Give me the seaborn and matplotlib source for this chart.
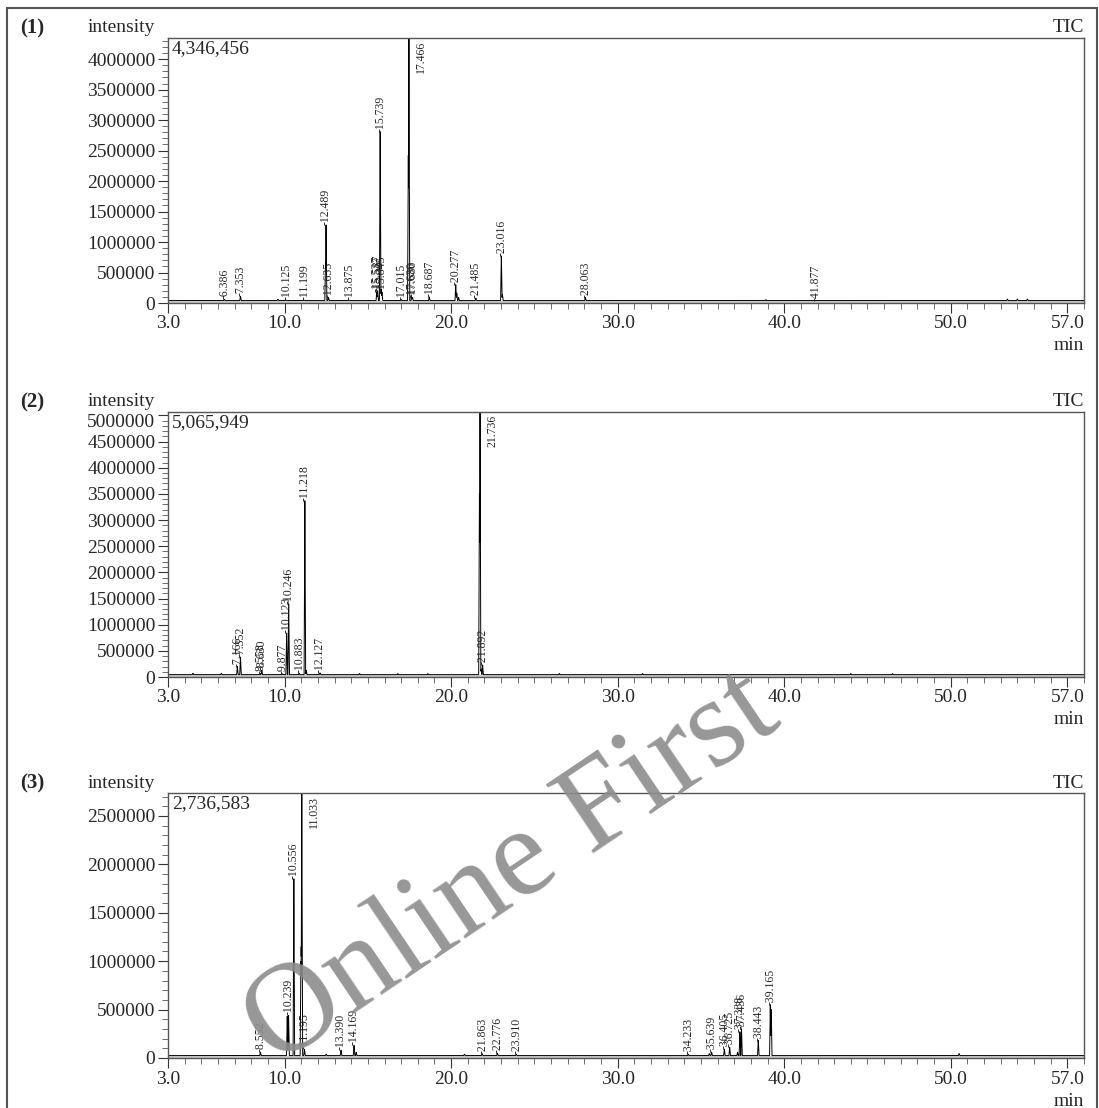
import numpy as np
import matplotlib
matplotlib.use("Agg")
import matplotlib.pyplot as plt
import matplotlib.transforms as mtransforms
import seaborn as sns
from matplotlib.ticker import FixedLocator, MultipleLocator, FuncFormatter

# ---- data (retention time in min, intensity) ----
# (1)
p1_rt = [6.386, 7.353, 10.125, 11.199, 12.489, 12.635, 13.875, 15.537, 15.587,
         15.739, 15.845, 17.015, 17.466, 17.630, 17.680, 18.687, 20.277, 21.485,
         23.016, 28.063, 41.877]
p1_h = [60e3, 110e3, 45e3, 45e3, 1.28e6, 90e3, 45e3, 180e3, 200e3,
        2.81e6, 180e3, 55e3, 4346456, 90e3, 95e3, 100e3, 300e3, 80e3,
        770e3, 90e3, 35e3]
p1_extra_rt = [9.60, 12.46, 15.80, 17.43, 20.34, 20.45, 23.08, 38.90, 53.4, 54.0, 54.6]
p1_extra_h = [60e3, 660e3, 220e3, 2.42e6, 160e3, 90e3, 140e3, 55e3, 65e3, 65e3, 65e3]
p1_max = 4346456
p1_base = 40e3

# (2)
p2_rt = [7.166, 7.352, 8.558, 8.630, 9.877, 10.123, 10.246, 10.883, 11.218,
         12.127, 21.736, 21.892]
p2_h = [200e3, 380e3, 60e3, 130e3, 60e3, 840e3, 1.39e6, 70e3, 3.37e6,
        80e3, 5065949, 230e3]
p2_extra_rt = [4.5, 6.2, 11.30, 14.5, 16.8, 18.6, 21.70, 21.80, 26.5, 31.5, 44.0, 46.5]
p2_extra_h = [70e3, 70e3, 130e3, 65e3, 65e3, 65e3, 3.5e6, 150e3, 65e3, 65e3, 65e3, 65e3]
p2_max = 5065949
p2_base = 45e3

# (3)
p3_rt = [8.552, 10.239, 10.556, 11.033, 11.195, 13.390, 14.169, 21.863, 22.776,
         23.910, 34.233, 35.639, 36.405, 36.725, 37.338, 37.436, 38.443, 39.165]
p3_h = [60e3, 440e3, 1.85e6, 2736583, 90e3, 80e3, 130e3, 45e3, 50e3,
        40e3, 40e3, 60e3, 90e3, 110e3, 270e3, 300e3, 180e3, 550e3]
p3_extra_rt = [10.16, 10.98, 11.00, 12.5, 14.3, 20.8, 35.5, 37.2, 39.22, 50.5]
p3_extra_h = [430e3, 1.0e6, 1.15e6, 40e3, 60e3, 40e3, 45e3, 60e3, 500e3, 45e3]
p3_max = 2736583
p3_base = 25e3

panels = [
    ("(1)", p1_rt, p1_h, p1_extra_rt, p1_extra_h, p1_max, p1_base, "4,346,456", 38),
    ("(2)", p2_rt, p2_h, p2_extra_rt, p2_extra_h, p2_max, p2_base, "5,065,949", 412),
    ("(3)", p3_rt, p3_h, p3_extra_rt, p3_extra_h, p3_max, p3_base, "2,736,583", 793),
]

sns.set_style("ticks")
plt.rcParams['font.family'] = ['Liberation Serif', 'DejaVu Serif']
plt.rcParams['axes.edgecolor'] = '#555555'

W, H = 1099, 1108
fig = plt.figure(figsize=(W / 100, H / 100), dpi=100)

hw = 0.045  # half width of a peak, min


def build_trace(rts, hs, base):
    # grid plus the apex times, so every apex is hit exactly
    t = np.union1d(np.arange(3.0, 58.0, 0.004), rts)
    y = np.full_like(t, base)
    for r, h in zip(rts, hs):
        d = np.abs(t - r)
        y = np.maximum(y, np.where(d < hw, base + (h - base) * (1 - d / hw), base))
    return t, y


ax_left, ax_right = 168, 1084
ax_h = 265
for name, rts, hs, ex_rt, ex_h, ymax, base, maxlab, top in panels:
    ax = fig.add_axes([ax_left / W, 1 - (top + ax_h) / H,
                       (ax_right - ax_left) / W, ax_h / H])
    t, y = build_trace(list(rts) + list(ex_rt), list(hs) + list(ex_h), base)
    ax.fill_between(t, 0, base, color='#c8c8c8', lw=0)
    sns.lineplot(x=t, y=y, ax=ax, color='black', lw=0.7, estimator=None, sort=False)
    ax.set_xlim(3.0, 58.0)
    ax.set_ylim(0, ymax)

    for r, h in zip(rts, hs):
        if h >= ymax * 0.99:
            ax.annotate(f"{r:.3f}", (r, ymax), xytext=(9, -2), textcoords='offset points',
                        rotation=90, ha='center', va='top', fontsize=8.5)
        else:
            ax.annotate(f"-{r:.3f}", (r, h), xytext=(0, 0), textcoords='offset points',
                        rotation=90, ha='center', va='bottom', fontsize=8.5)

    ax.xaxis.set_major_locator(FixedLocator([3, 10, 20, 30, 40, 50, 57]))
    ax.xaxis.set_major_formatter(FuncFormatter(lambda v, p: f"{v:.1f}"))
    ax.xaxis.set_minor_locator(MultipleLocator(1))
    ax.yaxis.set_major_locator(MultipleLocator(500000))
    ax.yaxis.set_major_formatter(FuncFormatter(lambda v, p: f"{int(round(v))}"))
    ax.yaxis.set_minor_locator(MultipleLocator(100000))
    ax.tick_params(which='major', direction='out', length=7, width=0.8, labelsize=14,
                   color='#333333', pad=2)
    ax.tick_params(which='minor', direction='out', length=4, width=0.6, color='#555555')
    ax.set_xlabel('')
    ax.set_ylabel('')
    for sp in ax.spines.values():
        sp.set_linewidth(1.0)

    # a y label right under the frame top is pushed down a little, like the instrument print
    fig.canvas.draw()
    for tk in ax.yaxis.get_major_ticks():
        v = tk.get_loc()
        if ymax - v < 150000 and v <= ymax:
            tk.label1.set_transform(tk.label1.get_transform() +
                                    mtransforms.ScaledTranslation(0, -3.6 / 72, fig.dpi_scale_trans))

    ax.text((20 - ax_left) / (ax_right - ax_left), 1 + 10 / ax_h, name, transform=ax.transAxes,
            ha='left', va='center', fontsize=15, fontweight='bold')
    ax.text((88 - ax_left) / (ax_right - ax_left), 1 + 10 / ax_h, "intensity", transform=ax.transAxes,
            ha='left', va='center', fontsize=14)
    ax.text(1.0, 1 + 10 / ax_h, "TIC", transform=ax.transAxes,
            ha='right', va='center', fontsize=14)
    ax.text(1.0, -43 / ax_h, "min", transform=ax.transAxes,
            ha='right', va='center', fontsize=14)
    ax.text(0.004, 1 - 11 / ax_h, maxlab, transform=ax.transAxes,
            ha='left', va='center', fontsize=14)

# watermark
fig.text(512 / W, 1 - 870 / H, "Online First", rotation=34, ha='center', va='center',
         fontsize=92, color='#8c8c8c', alpha=0.9, rotation_mode='anchor')

# outer frame
fig.add_artist(plt.Rectangle((7 / W, -0.01), (1097 - 7) / W, 1 - 8 / H + 0.01,
                             transform=fig.transFigure, fill=False, lw=1.5, ec='#555555'))

plt.savefig('out.png', dpi=100)
